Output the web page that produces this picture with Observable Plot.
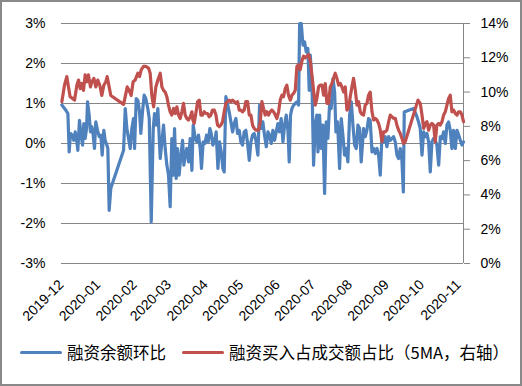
<!DOCTYPE html>
<html><head><meta charset="utf-8">
<script src="https://cdn.jsdelivr.net/npm/d3@7"></script>
<script src="https://cdn.jsdelivr.net/npm/@observablehq/plot@0.6"></script>
<style>
html,body{margin:0;padding:0;background:#fff;}
#wrap{position:relative;width:522px;height:386px;overflow:hidden;background:#fff;}
#wrap svg{position:absolute;left:0;top:0;}
#border{position:absolute;left:0;top:0;right:0;bottom:0;border:2px solid #898989;box-sizing:border-box;pointer-events:none;}
.leg{position:absolute;top:340px;height:24px;display:flex;align-items:center;font-family:"Noto Sans CJK SC";font-size:16.5px;color:#000;white-space:nowrap;}
.swatch{display:inline-block;width:42px;height:3px;border-radius:2px;margin-right:5px;}
</style></head>
<body><div id="wrap"></div>
<script>
// Series names
const seriesNames = ["融资余额环比", "融资买入占成交额占比（5MA，右轴）"];
const seriesColors = ["#4F81BD", "#C0504D"];
// Month tick labels
const monthLabels = ["2019-12","2020-01","2020-02","2020-03","2020-04","2020-05","2020-06","2020-07","2020-08","2020-09","2020-10","2020-11"];
const leftTicks = [-3,-2,-1,0,1,2,3];
const rightTicks = [0,2,4,6,8,10,12,14];
const startDate = "2019-12-01";
const spanDays = 340;

// 融资余额环比 (%), by day offset from 2019-12-01
const blueDays = [0.3,3.7,5.4,6.5,7.6,9.3,10.4,11.6,13.0,13.8,15.2,16.6,17.8,18.9,20.0,21.2,22.0,23.4,24.5,25.7,26.8,27.9,29.0,30.5,31.9,33.3,34.4,35.8,36.9,38.4,39.2,40.3,41.7,52.5,53.9,55.3,56.7,58.1,59.5,60.9,61.8,63.2,64.6,66.0,67.1,68.5,69.9,71.3,73.0,74.2,75.9,77.6,78.7,80.1,81.5,83.5,
84.9,86.3,87.7,89.1,90.5,91.9,93.3,94.5,95.6,97.0,98.1,99.5,101.0,102.4,103.5,104.6,106.0,107.4,108.8,110.3,111.4,113.1,114.5,115.9,117.3,118.4,119.8,121.3,122.7,124.1,125.5,126.6,128.0,129.4,130.8,132.3,133.7,135.1,136.5,137.6,139.0,140.4,141.8,143.3,144.7,146.1,147.5,148.9,150.3,151.7,153.1,154.5,155.9,157.4,158.8,160.2,161.6,163.0,164.4,166.1,
167.5,168.9,170.3,171.7,173.2,174.6,176.0,177.4,178.8,180.2,181.6,183.0,184.4,185.8,187.3,188.7,190.1,191.5,192.6,193.7,194.9,196.3,197.7,199.1,200.5,201.4,202.8,204.2,205.6,207.0,208.4,209.5,210.4,211.8,213.2,214.6,216.0,216.9,218.3,219.7,221.1,222.5,223.9,225.3,226.7,228.1,229.6,231.0,232.1,233.5,235.2,236.6,238.0,239.4,240.8,242.2,243.7,245.1,246.5,247.9,249.3,250.7,252.1,253.5,
255.5,256.9,258.3,259.7,261.1,262.6,264.0,265.4,266.8,268.2,269.6,271.0,272.4,273.8,275.2,276.7,278.1,279.5,280.9,282.3,283.7,285.1,286.5,287.9,289.1,289.9,293.6,297.8,300.6,302.0,303.4,304.9,306.3,307.7,309.1,310.5,311.9,313.3,314.7,316.1,317.5,319.0,320.4,321.8,323.2,324.6,326.0,327.4,328.8,330.2,331.6,333.1,334.5,335.9,337.3,338.7,340.0];
const blueValues = [0.96,0.83,0.75,-0.21,0.25,0.2,0.08,0.29,0.04,-0.17,0.58,0.2,-0.04,0.5,0.125,0.375,1.04,0.71,0.29,0.42,0.21,-0.125,0.54,0.33,0.17,0.21,-0.29,0.33,0.08,-0.04,-0.125,-1.67,-1.12,-0.17,0.875,0.375,0.125,-0.125,0.375,0.625,-0.125,1.125,1.08,0.79,0.25,0.79,1.21,1.125,0.875,0.625,-1.96,0.375,0.75,0.46,0.875,-0.375,
0.04,0.46,-0.125,-0.54,-0.79,-1.58,0.125,-0.79,0.375,-0.875,-0.125,-0.79,-0.29,0.08,-0.54,-0.29,-0.125,-0.46,0.125,-0.67,0.46,0.125,0.04,0.21,-0.125,-0.625,0.04,0,0.21,0.04,0.375,0.25,-0.04,0.04,0.29,-0.625,0.04,-0.21,-0.625,-0.71,1.17,1.0,0.79,0.54,0.29,0.5,0.625,0.25,0.33,0.04,-0.04,0.29,0.33,0,-0.42,0.04,0.21,0.25,0.08,-0.29,
0.96,0.375,0.54,0.21,-0.08,0.29,0.21,0,0.33,0.08,0.29,0.5,0.29,0.625,0.04,0.46,0.71,0.33,-0.46,0.71,0.875,0.96,1.0,1.04,0.96,3.0,3.0,2.46,2.54,2.29,2.375,1.33,2.21,1.54,-0.54,0.46,0.71,-0.21,0.71,-0.125,0.46,-1.25,0.54,0.125,0.96,0.875,1.625,1.29,0.29,0.54,-0.625,0.625,0.21,-0.29,-0.125,-0.46,0.71,1.04,0.46,-0.04,-0.125,0.46,0.375,-0.46,
0.375,0.17,0.33,0.625,0.58,-0.21,-0.125,-0.25,-0.125,-0.29,-0.79,0.17,0.04,0.17,-0.08,0.17,0.08,0.125,0.17,0.04,-0.29,-0.375,-0.125,-0.42,-1.21,0.79,0.83,0.875,0.67,0.54,0.375,-0.29,0.29,0.17,0.25,0.04,-0.71,0.04,0.125,0.08,-0.04,-0.54,0.17,0.125,0.29,0,0.46,0.54,0.33,-0.125,0.33,-0.125,0.33,0.21,0.08,-0.04,0.04];

// 融资买入占成交额占比（5MA）(%), right axis
const redDays = [0.3,2.5,4.5,5.9,7.3,9.3,11.0,13.0,14.4,15.8,17.2,18.6,20.0,21.4,22.8,24.5,25.7,27.4,29.0,30.7,32.4,34.1,35.8,37.5,38.6,40.3,41.7,52.5,53.9,55.6,57.2,58.9,60.6,62.3,64.6,66.0,67.4,69.4,71.3,73.6,75.0,76.4,77.9,79.8,81.5,83.5,
84.9,86.3,87.7,89.1,90.5,91.9,93.3,94.8,96.2,97.6,99.0,100.4,101.8,103.2,104.6,106.0,107.4,108.9,110.3,111.1,112.2,113.6,115.1,116.5,117.9,119.3,120.7,122.1,123.5,124.9,126.3,127.7,129.2,130.6,132.0,133.4,134.8,136.2,137.6,139.0,140.4,141.8,143.3,144.7,146.1,147.5,148.9,150.3,151.7,153.1,154.5,155.9,157.4,158.8,160.2,161.6,163.0,164.4,166.7,
168.1,169.5,170.9,172.3,173.7,175.1,176.5,177.9,179.4,180.8,182.2,183.6,185.0,186.4,187.8,189.2,190.6,192.0,193.5,194.9,196.3,197.7,199.1,200.5,201.9,203.3,204.7,206.1,207.6,209.0,210.4,211.8,213.2,214.6,216.0,217.4,218.8,220.3,221.7,223.1,224.5,225.9,227.3,228.7,230.1,231.5,232.9,234.4,235.8,237.2,238.6,240.0,241.4,242.8,244.2,245.6,247.0,248.5,249.9,251.3,252.7,254.1,
255.5,256.9,258.3,259.7,261.1,262.6,264.0,265.4,266.8,268.2,269.6,271.0,272.4,273.8,275.2,276.7,278.1,279.5,280.9,282.3,283.7,285.1,286.5,287.9,289.3,290.7,301.5,303.4,304.9,306.3,307.7,309.1,310.5,311.9,313.3,314.7,316.1,317.5,319.0,320.4,321.8,323.2,324.6,326.0,327.4,328.8,330.2,331.6,333.1,334.5,335.9,337.3,338.7,340.0];
const redValues = [9.44,10.4,10.9,10.3,9.73,9.63,9.53,10.4,10.7,10.2,10.5,10.1,11.0,10.6,11.0,10.3,10.6,10.8,10.3,10.7,10.4,9.8,10.4,10.6,10.9,10.3,9.8,9.28,9.73,10.3,10.1,9.8,10.6,10.7,11.1,10.9,11.3,11.5,11.5,11.4,11.1,9.8,9.14,10.3,10.7,11.1,
10.3,10.1,10.0,9.73,9.24,8.85,8.66,9.05,8.75,9.14,8.66,8.46,8.85,9.34,8.66,8.46,8.37,8.56,8.85,8.37,8.17,8.75,9.44,9.53,8.66,8.66,8.85,8.75,8.75,8.56,8.66,8.95,8.95,8.66,8.07,7.98,8.07,8.27,8.85,9.34,9.44,9.53,9.44,9.53,9.44,9.34,9.44,8.95,8.95,8.85,8.95,9.44,9.44,8.66,8.66,8.07,7.88,7.78,7.78,
8.27,9.44,9.05,8.66,8.85,8.66,8.85,8.95,8.85,8.66,8.46,8.85,9.53,9.82,9.73,10.2,10.4,9.82,9.53,9.82,9.92,10.1,11.5,11.6,11.3,11.8,12.1,12.0,12.1,12.2,11.8,11.0,10.1,9.24,9.63,10.3,10.4,10.4,9.82,10.5,9.34,9.34,10.3,10.5,10.8,11.1,10.8,10.4,10.5,10.3,10.0,10.3,8.95,9.05,9.73,10.3,10.8,10.1,9.24,9.44,8.85,8.7,
8.66,9.24,9.34,9.82,10.0,8.85,8.37,8.46,8.37,8.17,7.78,7.1,7.68,7.68,7.78,8.27,8.66,8.56,8.46,8.46,8.07,7.78,7.59,7.3,7.0,7.1,9.53,9.34,8.66,7.88,8.17,8.27,7.78,8.07,8.17,8.07,7.1,8.07,8.17,8.07,8.27,8.66,8.85,9.24,9.63,9.82,8.85,8.95,8.75,8.66,8.85,8.85,8.66,8.27];

const DAY = 864e5;
const t0 = new Date(startDate + "T00:00:00Z").getTime();
const toDate = d => new Date(t0 + d * DAY);
const xDomain = [toDate(0), toDate(spanDays)];
const monthDates = monthLabels.map(m => new Date(m + "-01T00:00:00Z"));

const L0 = leftTicks[0], L1 = leftTicks[leftTicks.length - 1];
const R0 = rightTicks[0], R1 = rightTicks[rightTicks.length - 1];
const toLeft = r => L0 + (r - R0) * (L1 - L0) / (R1 - R0);
const fromLeft = l => R0 + (l - L0) * (R1 - R0) / (L1 - L0);

const blue = blueDays.map((d, i) => ({date: toDate(d), v: blueValues[i]}));
const red = redDays.map((d, i) => ({date: toDate(d), v: toLeft(redValues[i])}));

const grid = "#868686";
const chart = Plot.plot({
  width: 522, height: 335,
  marginTop: 23, marginBottom: 72, marginLeft: 61, marginRight: 59,
  x: {type: "utc", domain: xDomain, axis: null},
  y: {domain: [L0, L1], axis: null},
  style: {fontFamily: "'Liberation Sans', Arial, sans-serif", fontSize: "14px", color: "#000", background: "transparent", overflow: "visible"},
  marks: [
    Plot.gridY(leftTicks, {stroke: grid, strokeOpacity: 1, strokeWidth: 1}),
    Plot.axisY(leftTicks, {anchor: "left", tickSize: 0, tickPadding: 16, tickFormat: d => d + "%", label: null, fill: "#000", fontSize: 14}),
    Plot.ruleX([xDomain[1]], {stroke: grid, strokeWidth: 1}),
    Plot.axisY(rightTicks.map(toLeft), {anchor: "right", tickSize: 6, tickPadding: 11, stroke: grid, fill: "#000", label: null, fontSize: 14,
      tickFormat: d => Math.round(fromLeft(d)) + "%"}),
    Plot.text(monthDates, {x: d => d, text: (d, i) => monthLabels[i], frameAnchor: "bottom", rotate: -45,
      textAnchor: "end", lineAnchor: "bottom", dx: 3, dy: 22, fontSize: 14, fill: "#000"}),
    Plot.line(blue, {x: "date", y: "v", stroke: seriesColors[0], strokeWidth: 3.2}),
    Plot.line(red, {x: "date", y: "v", stroke: seriesColors[1], strokeWidth: 3.2})
  ]
});
const wrap = document.getElementById("wrap");
wrap.appendChild(chart);

const legendLefts = [20, 182];
seriesNames.forEach((name, i) => {
  const item = document.createElement("div");
  item.className = "leg";
  item.style.left = legendLefts[i] + "px";
  const sw = document.createElement("span");
  sw.className = "swatch";
  sw.style.background = seriesColors[i];
  item.appendChild(sw);
  const tx = document.createElement("span");
  tx.textContent = name;
  item.appendChild(tx);
  wrap.appendChild(item);
});
const border = document.createElement("div");
border.id = "border";
wrap.appendChild(border);
</script>
</body></html>
